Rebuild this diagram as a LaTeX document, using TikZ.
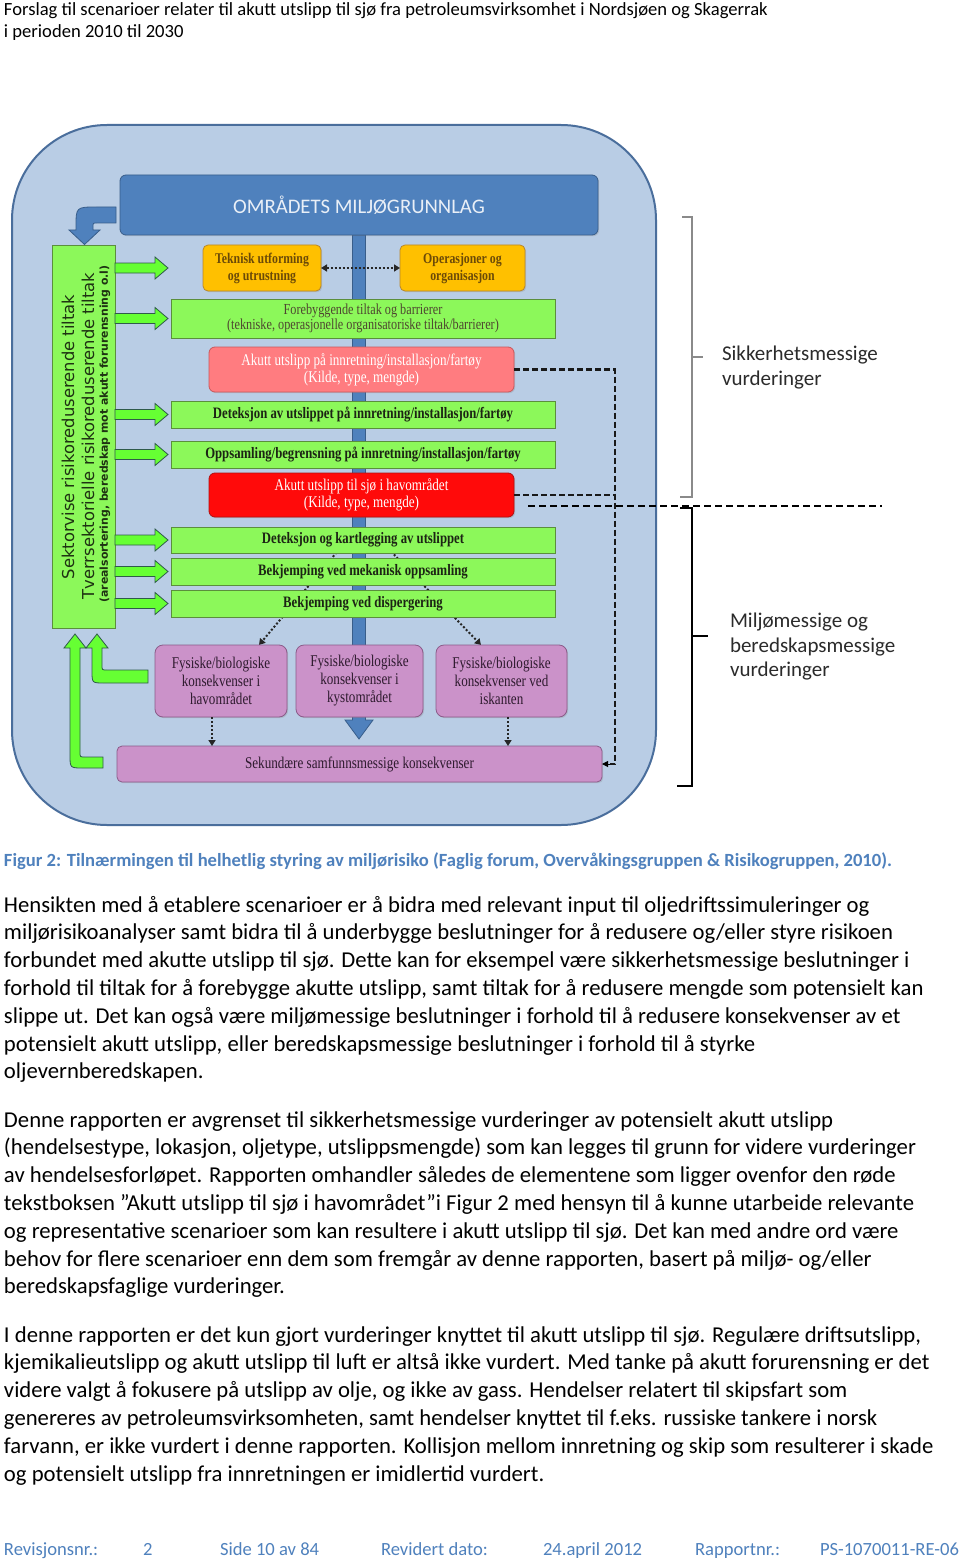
\documentclass[tikz,border=0pt]{standalone}
\usepackage{fontspec}
\setmainfont{Carlito}
\newfontfamily\diafont[FakeStretch=0.8]{Liberation Serif}
\newfontfamily\vtfont{DejaVu Sans}
\usetikzlibrary{calc,arrows.meta,shadows}
\definecolor{panel}{HTML}{B9CDE5}
\definecolor{paneld}{HTML}{4A6E9C}
\definecolor{topblue}{HTML}{4F81BD}
\definecolor{blued}{HTML}{385D8A}
\definecolor{grn}{HTML}{8CF85A}
\definecolor{grnd}{HTML}{5B8F3C}
\definecolor{garr}{HTML}{66FF33}
\definecolor{garrd}{HTML}{2F5B4A}
\definecolor{orng}{HTML}{FFC000}
\definecolor{orngd}{HTML}{B8862B}
\definecolor{ltred}{HTML}{FF7C80}
\definecolor{ltredd}{HTML}{C8585C}
\definecolor{redfill}{HTML}{FF0A0A}
\definecolor{redd}{HTML}{B01010}
\definecolor{pinkb}{HTML}{CB92C9}
\definecolor{pinkd}{HTML}{8B5B89}
\definecolor{capblue}{HTML}{4F81BD}
\definecolor{ortext}{HTML}{6B4A08}
\definecolor{foretext}{HTML}{4E4630}
\definecolor{grtext}{HTML}{1C2414}
\definecolor{pinktext}{HTML}{2E1A2E}
\definecolor{vtext}{HTML}{1E3312}
\definecolor{labtext}{HTML}{2B2B2B}
\definecolor{titletext}{HTML}{E9EFF7}
\definecolor{brgray}{HTML}{8A8A8A}
\pgfdeclarelayer{back}
\pgfdeclarelayer{mid}
\pgfsetlayers{back,mid,main}
\tikzset{
  txt/.style={anchor=base west, inner sep=0pt, outer sep=0pt},
  bodytxt/.style={txt, font=\fontsize{22.7}{27.8}\selectfont},
  smalltxt/.style={txt, font=\fontsize{18.6}{22}\selectfont},
  foottxt/.style={txt, font=\fontsize{18.6}{22}\selectfont, text=capblue},
  labtxt/.style={txt, font=\fontsize{21}{25}\selectfont, text=labtext},
  box/.style={inner sep=0pt, outer sep=0pt, align=center, line width=0.8pt,
    drop shadow={opacity=0.25, shadow xshift=1.2pt, shadow yshift=-1.2pt}},
  topbox/.style={box, fill=topblue, draw=blued, rounded corners=6pt, text=titletext,
    font=\fontsize{20.7}{24}\selectfont},
  orbox/.style={box, fill=orng, draw=orngd, rounded corners=5pt, text=ortext,
    font=\diafont\bfseries\fontsize{14.8}{17}\selectfont, minimum height=46pt},
  grbox/.style={box, fill=grn, draw=grnd, text=grtext, minimum width=384pt,
    font=\diafont\bfseries\fontsize{15.9}{17}\selectfont},
  forebox/.style={grbox, text=foretext, font=\diafont\fontsize{15.3}{15}\selectfont},
  lredbox/.style={box, fill=ltred, draw=ltredd, rounded corners=6pt, text=white,
    minimum width=305pt, font=\diafont\fontsize{16.4}{17}\selectfont},
  redbox/.style={lredbox, fill=redfill, draw=redd},
  pinkbox/.style={box, fill=pinkb, draw=pinkd, rounded corners=8pt, text=pinktext,
    minimum height=72pt, font=\diafont\fontsize{16.4}{18}\selectfont},
  leftbox/.style={box, fill=grn, draw=grnd},
  vtxt/.style={rotate=90, inner sep=0pt, text=vtext},
  garrow/.style={fill=garr, draw=garrd, line width=0.8pt},
  barrow/.style={fill=topblue, draw=blued, line width=0.8pt},
  dotline/.style={line width=2pt, dash pattern=on 2pt off 2pt, draw=black!85,
    -{Triangle[length=6pt,width=7pt]}},
  dashline/.style={line width=2.2pt, dash pattern=on 6pt off 3pt, draw=black!90},
  bracket/.style={line width=2pt},
}
\newcommand{\garrowat}[1]{%
  \draw[garrow] ($(leftbox.east |- #1)+(0,-5)$) -- ++(40,0) -- ++(0,-6) -- ++(13,11)
    -- ++(-13,11) -- ++(0,-6) -- ++(-40,0) -- cycle;}
\begin{document}
\begin{tikzpicture}[x=1pt,y=-1pt]
\useasboundingbox (0,0) rectangle (960,1562);
\begin{pgfonlayer}{back}
  \fill[white] (0,0) rectangle (960,1562);
  \draw[line width=2pt, draw=paneld, fill=panel, rounded corners=95pt] (12,125) rectangle (656,825);
\end{pgfonlayer}

% header
\node[smalltxt] (h1) at (4,16) {Forslag til scenarioer relater til akutt utslipp til sjø fra petroleumsvirksomhet i Nordsjøen og Skagerrak};
\node[smalltxt] (h2) at (4,38) {i perioden 2010 til 2030};

% boxes
\node[topbox, minimum width=478pt, minimum height=60pt] (top) at (359,205) {OMRÅDETS MILJØGRUNNLAG};
\node[orbox, minimum width=118pt] (tek) at (262,268) {Teknisk utforming\\og utrustning};
\node[orbox, minimum width=125pt] (ops) at (462.5,268) {Operasjoner og\\organisasjon};
\node[forebox, minimum height=39pt] (fore) at (363,318.5) {Forebyggende tiltak og barrierer\\(tekniske, operasjonelle organisatoriske tiltak/barrierer)};
\node[lredbox, minimum height=45pt] (akutt1) at (361.5,369.5) {Akutt utslipp på innretning/installasjon/fartøy\\(Kilde, type, mengde)};
\node[grbox, minimum height=27pt] (det1) at (363,414.5) {Deteksjon av utslippet på innretning/installasjon/fartøy};
\node[grbox, minimum height=27pt] (opp) at (363,454.5) {Oppsamling/begrensning på innretning/installasjon/fartøy};
\node[redbox, minimum height=44pt] (akutt2) at (361.5,495) {Akutt utslipp til sjø i havområdet\\(Kilde, type, mengde)};
\node[grbox, minimum height=26pt] (det2) at (363,540) {Deteksjon og kartlegging av utslippet};
\node[grbox, minimum height=27pt] (mek) at (363,571.5) {Bekjemping ved mekanisk oppsamling};
\node[grbox, minimum height=27pt] (disp) at (363,603.5) {Bekjemping ved dispergering};
\node[pinkbox, minimum width=132pt] (pink1) at (221,681) {Fysiske/biologiske\\konsekvenser i\\havområdet};
\node[pinkbox, minimum width=127pt] (pink2) at (359.5,681) {Fysiske/biologiske\\konsekvenser i\\kystområdet};
\node[pinkbox, minimum width=131pt] (pink3) at (501.5,681) {Fysiske/biologiske\\konsekvenser ved\\iskanten};
\node[pinkbox, minimum width=485pt, minimum height=36pt, rounded corners=5pt] (sek) at (359.5,764) {Sekundære samfunnsmessige konsekvenser};
\node[leftbox, minimum width=63pt, minimum height=383pt] (leftbox) at (83.5,436.5) {};
\node[vtxt, font=\vtfont\fontsize{16.4}{18}\selectfont] (lt1) at (68,437) {Sektorvise risikoreduserende tiltak};
\node[vtxt, font=\vtfont\fontsize{16.4}{18}\selectfont] (lt2) at (88,436) {Tverrsektorielle risikoreduserende tiltak};
\node[vtxt, font=\vtfont\bfseries\fontsize{10.9}{12}\selectfont] (lt3) at (105,434) {(arealsortering, beredskap mot akutt forurensning o.l)};

% spine and hidden dotted lines
\coordinate (dl) at ($(det2.center)+(-16,0)$);
\coordinate (dr) at ($(det2.center)+(17,0)$);
\coordinate (pl) at ($(pink1.north east)+(-28,0)$);
\coordinate (pr) at ($(pink3.north west)+(45,0)$);
\begin{pgfonlayer}{mid}
  \draw[barrow] (352.5,235) -- (365.5,235) -- (365.5,720) -- (373,720) -- (359,739) -- (345,720) -- (352.5,720) -- cycle;
  \draw[dotline] (dl) -- (pl);
  \draw[dotline] (dr) -- (pr);
\end{pgfonlayer}

% green block arrows
\garrowat{tek}
\garrowat{fore}
\garrowat{det1}
\garrowat{opp}
\garrowat{det2}
\garrowat{mek}
\garrowat{disp}

% blue bent arrow from top box to left box
\draw[barrow] (116,207) -- (97,207) .. controls (76,207) .. (76,227) -- (76,230) -- (69,230) -- (84.5,244.5) -- (100,230) -- (93,230) -- (93,227) .. controls (93,223) .. (97,223) -- (116,223) -- cycle;

% green bent return arrows
\draw[garrow] (103,757) -- (103,768) -- (83,768) .. controls (70,768) .. (70,755) -- (70,648) -- (64,648) -- (75,634) -- (86,648) -- (80,648) -- (80,752) .. controls (80,757) .. (85,757) -- cycle;
\draw[garrow] (148,670) -- (148,683) -- (104,683) .. controls (92,683) .. (92,671) -- (92,648) -- (86,648) -- (97,634) -- (108,648) -- (102,648) -- (102,665) .. controls (102,670) .. (107,670) -- cycle;

% dotted connectors
\draw[dotline, {Triangle[length=6pt,width=7pt]}-{Triangle[length=6pt,width=7pt]}] (tek.east) -- (ops.west);
\coordinate (p1s) at ($(pink1.south)+(-9,0)$);
\coordinate (p3s) at ($(pink3.south)+(6.5,0)$);
\draw[dotline] (p1s) -- (p1s |- sek.north);
\draw[dotline] (p3s) -- (p3s |- sek.north);

% dashed connectors
\coordinate (dR) at (615,0);
\draw[dashline] (akutt1.east) -- (akutt1.east -| dR) -- (sek.east -| dR) -- ($(sek.east)+(7,0)$);
\draw[-{Triangle[length=6pt,width=6pt]}, line width=1pt] ($(sek.east)+(8,0)$) -- (sek.east);
\draw[dashline] (akutt2.east) -- (akutt2.east -| dR);
\coordinate (divL) at (528,506);
\coordinate (divR) at (882,506);
\draw[line width=1.3pt, dash pattern=on 7pt off 4pt] (divL) -- (divR);

% brackets
\draw[bracket, draw=brgray] (682,217) -- (692,217) -- (692,497) -- (680,497);
\draw[bracket, draw=brgray] (692,357) -- (703,357);
\draw[bracket, draw=black] (680,508) -- (692,508) -- (692,786) -- (677,786);
\draw[bracket, draw=black] (692,636) -- (708,636);
\node[labtxt] (s1) at (722,360) {Sikkerhetsmessige};
\node[labtxt] (s2) at (722,385) {vurderinger};
\node[labtxt] (m1) at (730,627) {Miljømessige og};
\node[labtxt] (m2) at (730,652) {beredskapsmessige};
\node[labtxt] (m3) at (730,676) {vurderinger};

% caption
\node[smalltxt, font=\bfseries\fontsize{18.6}{22}\selectfont, text=capblue] (cap) at (4,866) {Figur 2: Tilnærmingen til helhetlig styring av miljørisiko (Faglig forum, Overvåkingsgruppen \& Risikogruppen, 2010).};

% body
\foreach \l [count=\i from 0] in {
 {Hensikten med å etablere scenarioer er å bidra med relevant input til oljedriftssimuleringer og},
 {miljørisikoanalyser samt bidra til å underbygge beslutninger for å redusere og/eller styre risikoen},
 {forbundet med akutte utslipp til sjø. Dette kan for eksempel være sikkerhetsmessige beslutninger i},
 {forhold til tiltak for å forebygge akutte utslipp, samt tiltak for å redusere mengde som potensielt kan},
 {slippe ut. Det kan også være miljømessige beslutninger i forhold til å redusere konsekvenser av et},
 {potensielt akutt utslipp, eller beredskapsmessige beslutninger i forhold til å styrke},
 {oljevernberedskapen.}}
 \node[bodytxt, name=pa\i] at (4,{912+27.8*\i}) {\l};
\foreach \l [count=\i from 0] in {
 {Denne rapporten er avgrenset til sikkerhetsmessige vurderinger av potensielt akutt utslipp},
 {(hendelsestype, lokasjon, oljetype, utslippsmengde) som kan legges til grunn for videre vurderinger},
 {av hendelsesforløpet. Rapporten omhandler således de elementene som ligger ovenfor den røde},
 {tekstboksen ”Akutt utslipp til sjø i havområdet”i Figur 2 med hensyn til å kunne utarbeide relevante},
 {og representative scenarioer som kan resultere i akutt utslipp til sjø. Det kan med andre ord være},
 {behov for flere scenarioer enn dem som fremgår av denne rapporten, basert på miljø- og/eller},
 {beredskapsfaglige vurderinger.}}
 \node[bodytxt, name=pb\i] at (4,{1127+27.8*\i}) {\l};
\foreach \l [count=\i from 0] in {
 {I denne rapporten er det kun gjort vurderinger knyttet til akutt utslipp til sjø. Regulære driftsutslipp,},
 {kjemikalieutslipp og akutt utslipp til luft er altså ikke vurdert. Med tanke på akutt forurensning er det},
 {videre valgt å fokusere på utslipp av olje, og ikke av gass. Hendelser relatert til skipsfart som},
 {genereres av petroleumsvirksomheten, samt hendelser knyttet til f.eks. russiske tankere i norsk},
 {farvann, er ikke vurdert i denne rapporten. Kollisjon mellom innretning og skip som resulterer i skade},
 {og potensielt utslipp fra innretningen er imidlertid vurdert.}}
 \node[bodytxt, name=pc\i] at (4,{1342+27.8*\i}) {\l};

% footer
\node[foottxt] (f1) at (4,1555) {Revisjonsnr.:};
\node[foottxt] (f2) at (143,1555) {2};
\node[foottxt] (f3) at (220,1555) {Side 10 av 84};
\node[foottxt] (f4) at (381,1555) {Revidert dato:};
\node[foottxt] (f5) at (543,1555) {24.april 2012};
\node[foottxt] (f6) at (695,1555) {Rapportnr.:};
\node[foottxt] (f7) at (820,1555) {PS-1070011-RE-06};
\end{tikzpicture}
\end{document}
